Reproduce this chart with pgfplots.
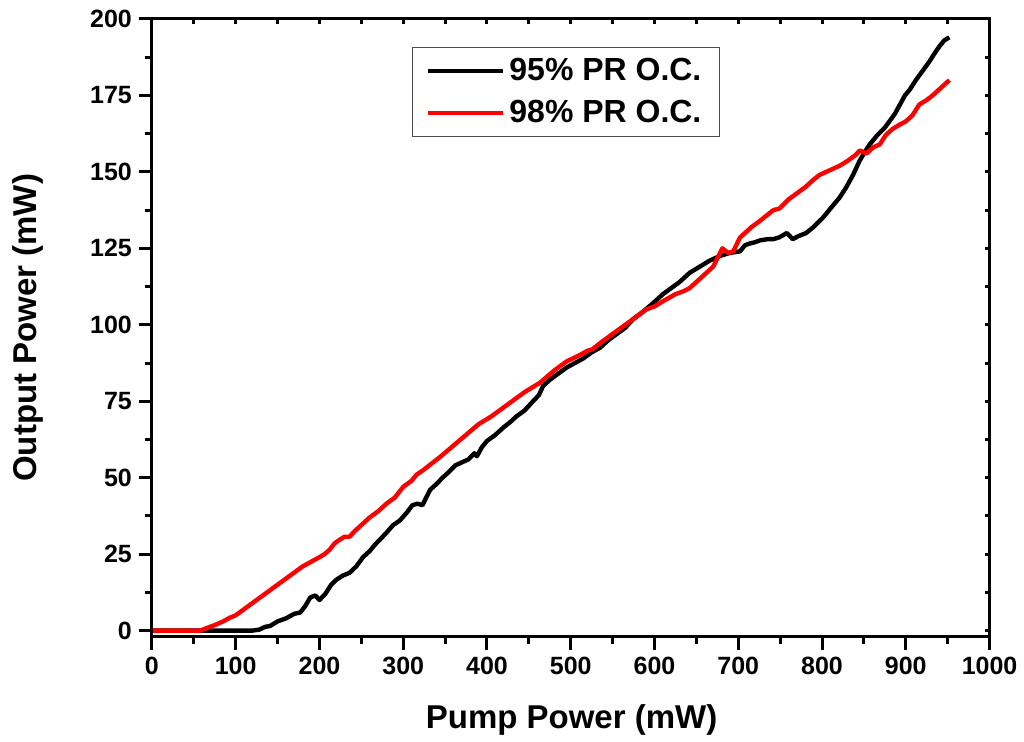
\documentclass[border=0pt]{standalone}
\usepackage{fontspec}
\setmainfont{Liberation Sans}
\usepackage{pgfplots}
\pgfplotsset{compat=1.18}
\begin{document}
\begin{tikzpicture}
\begin{axis}[
  name=main,
  scale only axis, width=419pt, height=309pt,
  xmin=0, xmax=1000, ymin=-2, ymax=200,
  xtick={0,100,...,1000}, ytick={0,25,...,200},
  minor xtick={50,150,...,950}, minor ytick={12.5,37.5,...,187.5},
  tick align=outside, xtick pos=bottom, ytick pos=left,
  major tick length=6.5pt, minor tick length=3.5pt,
  tick style={line width=1.5pt, black},
  axis line style={line width=1.5pt},
  /pgf/number format/assume math mode=true,
  /pgf/number format/1000 sep={},
  tick label style={font=\bfseries\fontsize{12.5}{14}\selectfont},
  xlabel={Pump Power (mW)}, ylabel={Output Power (mW)},
  label style={font=\bfseries\fontsize{16.5}{19}\selectfont},
  xlabel style={at={(axis description cs:0.501,-0.134)}, anchor=center},
  ylabel style={at={(axis description cs:-0.148,0.5)}, anchor=center},
  legend style={at={(0.31,0.955)}, anchor=north west, draw=black!70, line width=0.5pt,
    font=\bfseries\fontsize{16}{18}\selectfont, row sep=6.5pt, inner xsep=7pt, inner ysep=4.5pt,
    nodes={inner ysep=1pt, inner xsep=2pt}},
  legend cell align=left,
  legend image code/.code={\draw[#1, line width=2.2pt] (0pt,0pt) -- (37.5pt,0pt);},
]
\addplot[black, line width=2.2pt, line join=round] coordinates {
(0,0) (20,0) (40,0) (60,0) (80,0) (100,0) (120,0) (128,0.3) (135,1.2) (141,1.5) (150,3) (160,4) (170,5.5) (177,5.9) (183,8) (189,10.8) (195,11.5) (200,10) (207,12) (214,15) (220,16.6) (228,18) (236,18.9) (244,21) (252,24) (260,26) (266,28) (272,29.7) (280,32) (288,34.5) (296,36) (304,38.5) (311,41) (317,41.5) (323,41) (332,46) (340,48) (347,50) (355,52) (362,54) (370,55) (378,56) (385,58) (388,57) (394,60) (400,62) (410,64) (420,66.5) (427,68) (435,70) (445,72) (455,75) (462,77) (467,80) (475,82) (485,84) (495,86) (505,87.5) (515,89) (525,91) (535,92.5) (545,95) (555,97) (565,99) (575,102) (585,104) (598,107) (610,110) (620,112) (630,114) (642,117) (654,119) (666,121) (678,122.5) (690,123.5) (702,124) (708,126) (714,126.6) (720,127) (726,127.6) (735,128) (742,128) (749,128.6) (758,130) (765,128) (772,129) (781,130) (790,132) (801,135) (810,138) (821,141.6) (829,145) (837,149) (845,153.7) (851,156.5) (857,159) (866,162) (875,164.5) (881,166.7) (887,169) (893,172) (899,175) (905,177) (912,180) (920,183) (928,186) (935,189) (940,191) (946,193) (952,194)
};
\addlegendentry{95\% PR O.C.}
\addplot[red, line width=2.2pt, line join=round] coordinates {
(0,0) (20,0) (40,0) (58,0) (65,0.8) (75,1.8) (85,3) (93,4.2) (100,5) (110,7) (120,9) (130,11) (140,13) (150,15) (160,17) (170,19) (180,21) (190,22.5) (200,24) (206,25) (212,26.4) (218,28.5) (224,29.7) (230,30.7) (236,30.7) (242,32.5) (250,34.5) (260,37) (270,39) (280,41.5) (290,43.5) (300,47) (310,49) (316,51) (324,52.5) (332,54.2) (345,57) (360,60.5) (375,64) (390,67.5) (405,70) (415,72) (430,75) (445,78) (463,81) (480,85) (495,88) (510,90) (520,91.5) (526,92) (535,94) (545,96) (555,98) (565,100) (578,102.5) (590,105) (600,106) (612,108) (625,110) (635,111) (642,112) (650,114) (660,116.5) (670,119) (681,125) (688,123.5) (694,124) (702,128.5) (708,130) (716,132) (726,134) (735,136) (742,137.5) (749,138) (760,141) (770,143) (780,145) (790,147.5) (797,149) (805,150) (813,151) (821,152) (830,153.5) (840,155.5) (845,157) (853,156) (861,158) (869,159) (876,162) (884,164) (893,165.5) (900,166.5) (908,168.5) (916,172) (925,173.5) (932,175) (940,177) (946,178.5) (952,180)
};
\addlegendentry{98\% PR O.C.}
\end{axis}
\begin{axis}[
  scale only axis, width=419pt, height=309pt,
  xmin=0, xmax=1000, ymin=-2, ymax=200,
  xtick={0,100,...,1000}, ytick={0,25,...,200},
  minor xtick={50,150,...,950}, minor ytick={12.5,37.5,...,187.5},
  tick align=inside, xtick pos=top, ytick pos=right,
  major tick length=2.5pt, minor tick length=2.5pt,
  tick style={line width=1.5pt, black},
  axis line style={line width=1.5pt},
  xticklabels={}, yticklabels={},
]
\end{axis}
\path (main.south west) +(-76pt,-52.5pt);
\path (main.north east) +(17pt,9.5pt);
\end{tikzpicture}
\end{document}
